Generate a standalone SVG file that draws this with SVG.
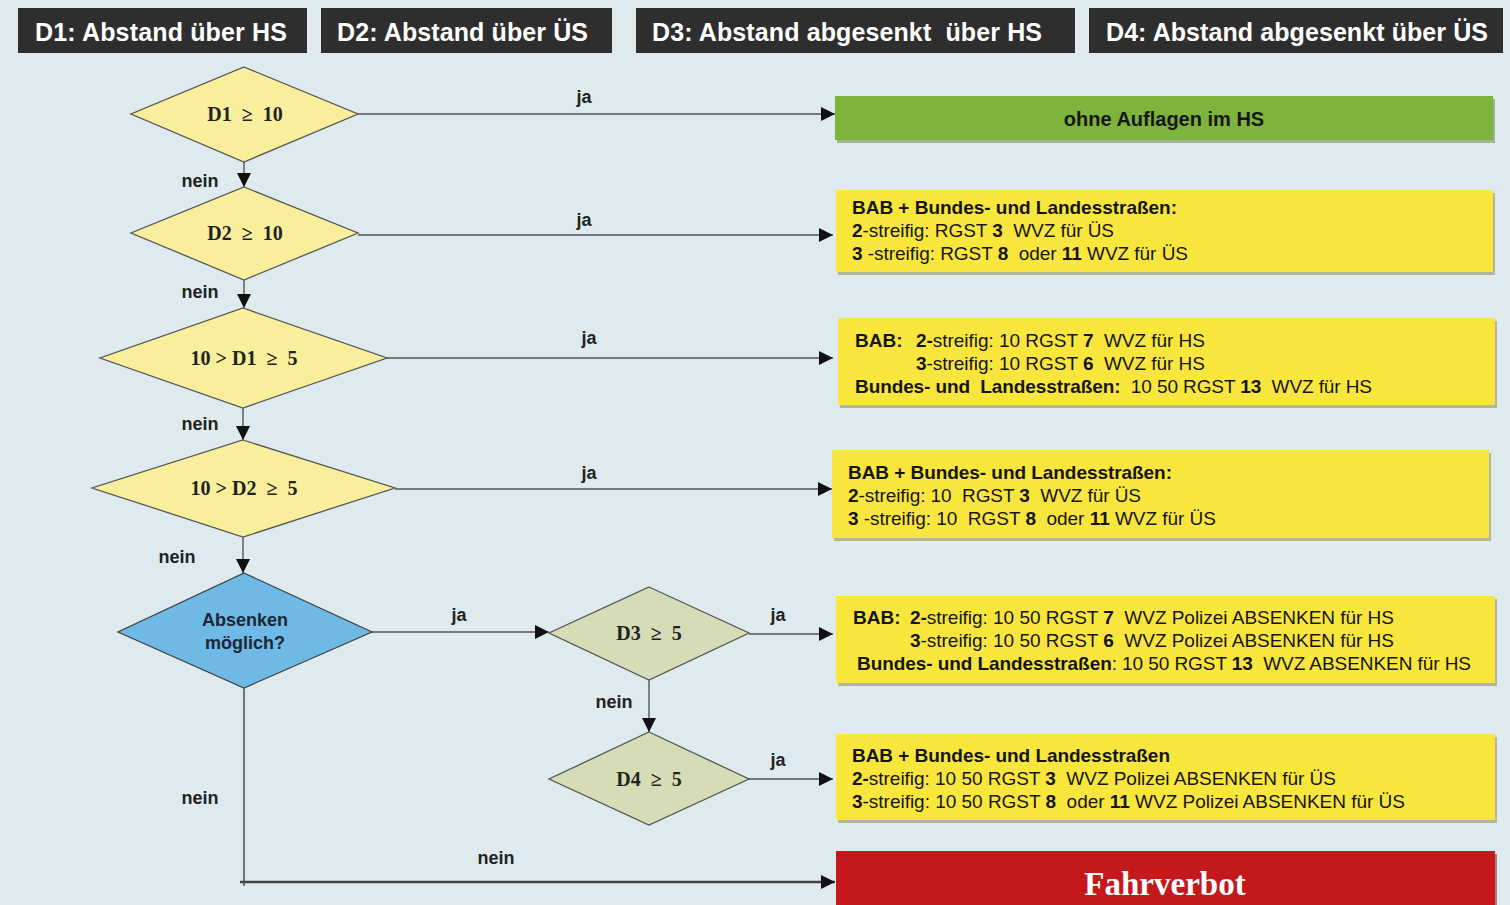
<svg xmlns="http://www.w3.org/2000/svg" width="1510" height="905" viewBox="0 0 1510 905">
<defs>
<marker id="ah" markerUnits="userSpaceOnUse" markerWidth="14" markerHeight="14" refX="14" refY="7" orient="auto">
<path d="M0,0 L14,7 L0,14 z" fill="#111"/>
</marker>
<style>
.hdr{fill:#2e2e2e}
.hdrt{font-family:"Liberation Sans",Arial,sans-serif;font-weight:bold;font-size:25px;fill:#fff;white-space:pre}
.dy{fill:#f8ee9c;stroke:#555;stroke-width:1.3}
.dg{fill:#d6ddb6;stroke:#555;stroke-width:1.3}
.db{fill:#6fb9e6;stroke:#444;stroke-width:1.3}
.dt{font-family:"Liberation Serif","Times New Roman",serif;font-weight:bold;font-size:20px;fill:#222;text-anchor:middle;white-space:pre}
.yb{fill:#f9e63c}
.sh{fill:#8e8a55;opacity:0.55}
.bt{font-family:"Liberation Sans",Arial,sans-serif;font-size:19px;fill:#151515;white-space:pre}
.b{font-weight:bold}
.lbl{font-family:"Liberation Sans",Arial,sans-serif;font-weight:bold;font-size:18px;fill:#222;text-anchor:middle}
.ln{stroke:#555;stroke-width:1.4;fill:none;marker-end:url(#ah)}
</style>
</defs>
<rect width="1510" height="905" fill="#dfeaee"/>

<g id="headers">
<rect class="hdr" x="18" y="8" width="289" height="45"/>
<text class="hdrt" x="35" y="41" textLength="252">D1: Abstand über HS</text>
<rect class="hdr" x="321" y="8" width="291" height="45"/>
<text class="hdrt" x="337" y="41" textLength="251">D2: Abstand über ÜS</text>
<rect class="hdr" x="636" y="8" width="439" height="45"/>
<text class="hdrt" x="652" y="41" textLength="390">D3: Abstand abgesenkt  über HS</text>
<rect class="hdr" x="1089" y="8" width="414" height="45"/>
<text class="hdrt" x="1106" y="41" textLength="382">D4: Abstand abgesenkt über ÜS</text>
</g>

<g id="connectors">
<line class="ln" x1="358" y1="114" x2="835" y2="114"/>
<line class="ln" x1="358" y1="235" x2="833" y2="235"/>
<line class="ln" x1="387" y1="358" x2="833" y2="358"/>
<line class="ln" x1="395" y1="489" x2="832" y2="489"/>
<line class="ln" x1="372" y1="632" x2="549" y2="632"/>
<line class="ln" x1="749" y1="634" x2="833" y2="634"/>
<line class="ln" x1="749" y1="779" x2="833" y2="779"/>
<line class="ln" x1="244" y1="162" x2="244" y2="187"/>
<line class="ln" x1="244" y1="280" x2="244" y2="308"/>
<line class="ln" x1="243" y1="408" x2="243" y2="440"/>
<line class="ln" x1="243" y1="537" x2="243" y2="573"/>
<line class="ln" x1="649" y1="680" x2="649" y2="732"/>
<path d="M244,688 V886" stroke="#555" stroke-width="1.6" fill="none"/>
<path d="M240,882 H835" stroke="#444" stroke-width="2.4" fill="none" marker-end="url(#ah)"/>
<text class="lbl" x="584" y="103">ja</text>
<text class="lbl" x="584" y="226">ja</text>
<text class="lbl" x="589" y="344">ja</text>
<text class="lbl" x="589" y="479">ja</text>
<text class="lbl" x="459" y="621">ja</text>
<text class="lbl" x="778" y="621">ja</text>
<text class="lbl" x="778" y="766">ja</text>
<text class="lbl" x="200" y="187">nein</text>
<text class="lbl" x="200" y="298">nein</text>
<text class="lbl" x="200" y="430">nein</text>
<text class="lbl" x="177" y="563">nein</text>
<text class="lbl" x="614" y="708">nein</text>
<text class="lbl" x="200" y="804">nein</text>
<text class="lbl" x="496" y="864">nein</text>
</g>

<g id="d1">
<polygon class="dy" points="244,67 358,114 244,162 131,114"/>
<text class="dt" x="245" y="121">D1  ≥  10</text>
</g>
<g id="d2">
<polygon class="dy" points="244,187 358,233 244,280 131,233"/>
<text class="dt" x="245" y="240">D2  ≥  10</text>
</g>
<g id="d3">
<polygon class="dy" points="243,308 387,358 243,408 100,358"/>
<text class="dt" x="244" y="365">10 &gt; D1  ≥  5</text>
</g>
<g id="d4">
<polygon class="dy" points="243,440 395,488 243,537 92,488"/>
<text class="dt" x="244" y="495">10 &gt; D2  ≥  5</text>
</g>
<g id="absenken">
<polygon class="db" points="244,573 372,632 244,688 118,632"/>
<text x="245" y="626" style="font-family:'Liberation Sans',Arial,sans-serif;font-weight:bold;font-size:18px;fill:#1c2733;text-anchor:middle">Absenken</text>
<text x="245" y="649" style="font-family:'Liberation Sans',Arial,sans-serif;font-weight:bold;font-size:18px;fill:#1c2733;text-anchor:middle">möglich?</text>
</g>
<g id="d3a">
<polygon class="dg" points="649,587 749,633 649,680 549,633"/>
<text class="dt" x="649" y="640">D3  ≥  5</text>
</g>
<g id="d4a">
<polygon class="dg" points="649,732 749,779 649,825 549,779"/>
<text class="dt" x="649" y="786">D4  ≥  5</text>
</g>

<g id="green">
<rect x="837" y="99" width="658" height="44" fill="#5d7a3a" opacity="0.5"/>
<rect x="835" y="96" width="658" height="44" fill="#7db43c"/>
<text x="1164" y="126" text-anchor="middle" style="font-family:'Liberation Sans',Arial,sans-serif;font-weight:bold;font-size:20px;fill:#161616">ohne Auflagen im HS</text>
</g>

<g id="box1">
<rect class="sh" x="838" y="193" width="657" height="82"/>
<rect class="yb" x="836" y="190" width="657" height="82"/>
<text class="bt b" x="852" y="214" textLength="325">BAB + Bundes- und Landesstraßen:</text>
<text class="bt" x="852" y="237" textLength="262"><tspan class="b">2</tspan>-streifig: RGST <tspan class="b">3</tspan>  WVZ für ÜS</text>
<text class="bt" x="852" y="260" textLength="336"><tspan class="b">3</tspan> -streifig: RGST <tspan class="b">8</tspan>  oder <tspan class="b">11</tspan> WVZ für ÜS</text>
</g>

<g id="box2">
<rect class="sh" x="840" y="321" width="657" height="87"/>
<rect class="yb" x="838" y="318" width="657" height="87"/>
<text class="bt b" x="855" y="347">BAB:</text>
<text class="bt" x="916" y="347" textLength="289"><tspan class="b">2-</tspan>streifig: 10 RGST <tspan class="b">7</tspan>  WVZ für HS</text>
<text class="bt" x="916" y="370" textLength="289"><tspan class="b">3</tspan>-streifig: 10 RGST <tspan class="b">6</tspan>  WVZ für HS</text>
<text class="bt" x="855" y="393" textLength="517"><tspan class="b">Bundes- und  Landesstraßen:</tspan>  10 50 RGST <tspan class="b">13</tspan>  WVZ für HS</text>
</g>

<g id="box3">
<rect class="sh" x="834" y="453" width="657" height="88"/>
<rect class="yb" x="832" y="450" width="657" height="88"/>
<text class="bt b" x="848" y="479" textLength="324">BAB + Bundes- und Landesstraßen:</text>
<text class="bt" x="848" y="502" textLength="293"><tspan class="b">2</tspan>-streifig: 10  RGST <tspan class="b">3</tspan>  WVZ für ÜS</text>
<text class="bt" x="848" y="525" textLength="368"><tspan class="b">3</tspan> -streifig: 10  RGST <tspan class="b">8</tspan>  oder <tspan class="b">11</tspan> WVZ für ÜS</text>
</g>

<g id="box4">
<rect class="sh" x="838" y="599" width="659" height="87"/>
<rect class="yb" x="836" y="596" width="659" height="87"/>
<text class="bt b" x="853" y="624">BAB:</text>
<text class="bt" x="910" y="624" textLength="484"><tspan class="b">2-</tspan>streifig: 10 50 RGST <tspan class="b">7</tspan>  WVZ Polizei ABSENKEN für HS</text>
<text class="bt" x="910" y="647" textLength="484"><tspan class="b">3</tspan>-streifig: 10 50 RGST <tspan class="b">6</tspan>  WVZ Polizei ABSENKEN für HS</text>
<text class="bt" x="857" y="670" textLength="614"><tspan class="b">Bundes- und Landesstraßen</tspan>: 10 50 RGST <tspan class="b">13</tspan>  WVZ ABSENKEN für HS</text>
</g>

<g id="box5">
<rect class="sh" x="838" y="737" width="659" height="86"/>
<rect class="yb" x="836" y="734" width="659" height="86"/>
<text class="bt b" x="852" y="762" textLength="318">BAB + Bundes- und Landesstraßen</text>
<text class="bt" x="852" y="785" textLength="484"><tspan class="b">2-</tspan>streifig: 10 50 RGST <tspan class="b">3</tspan>  WVZ Polizei ABSENKEN für ÜS</text>
<text class="bt" x="852" y="808" textLength="553"><tspan class="b">3</tspan>-streifig: 10 50 RGST <tspan class="b">8</tspan>  oder <tspan class="b">11</tspan> WVZ Polizei ABSENKEN für ÜS</text>
</g>

<g id="fahrverbot">
<rect x="838" y="854" width="659" height="60" fill="#7a1010" opacity="0.5"/>
<rect x="836" y="851" width="659" height="60" fill="#c4181d"/>
<text x="1165" y="895" text-anchor="middle" style="font-family:'Liberation Serif','Times New Roman',serif;font-weight:bold;font-size:33px;fill:#fff">Fahrverbot</text>
</g>
</svg>
